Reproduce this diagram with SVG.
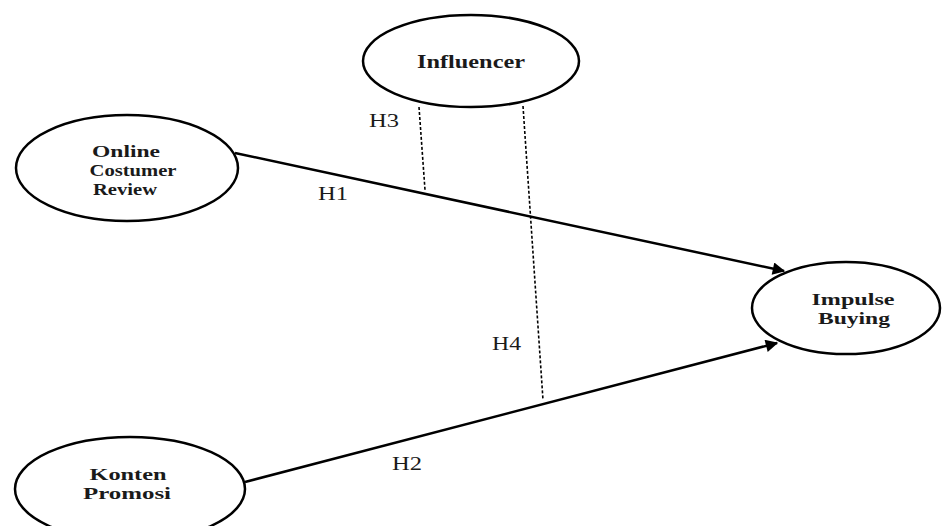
<svg xmlns="http://www.w3.org/2000/svg" width="943" height="526" viewBox="0 0 943 526">
<style>
.node{fill:#fff;stroke:#000;stroke-width:2.5}
.lbl{font-family:"Liberation Serif","Times New Roman",serif;font-weight:bold;font-size:17px;fill:#1a1a1a;text-anchor:middle}
.big{font-size:19px}
.h{font-family:"Liberation Serif","Times New Roman",serif;font-size:18px;fill:#1a1a1a}
.path{stroke:#000;stroke-width:2.5;fill:none}
.dash{stroke:#000;stroke-width:1.6;stroke-dasharray:3,2;fill:none}
</style>
<defs>
<marker id="arr" viewBox="0 0 10 10" refX="9" refY="5" markerWidth="5.5" markerHeight="5" orient="auto" markerUnits="strokeWidth">
<path d="M0,0 L10,5 L0,10 z" fill="#000"/>
</marker>
</defs>
<rect width="943" height="526" fill="#fff"/>
<g id="connectors">
<line class="path" x1="235" y1="153" x2="784" y2="271" marker-end="url(#arr)"/>
<line class="path" x1="245" y1="482" x2="777" y2="343" marker-end="url(#arr)"/>
<line class="dash" x1="419" y1="107" x2="425" y2="190"/>
<line class="dash" x1="523" y1="106" x2="543" y2="400"/>
<text class="h" x="369" y="127" textLength="30" lengthAdjust="spacingAndGlyphs">H3</text>
<text class="h" x="318" y="200" textLength="30" lengthAdjust="spacingAndGlyphs">H1</text>
<text class="h" x="492" y="350" textLength="29" lengthAdjust="spacingAndGlyphs">H4</text>
<text class="h" x="392" y="470" textLength="30" lengthAdjust="spacingAndGlyphs">H2</text>
</g>
<g id="influencer">
<ellipse class="node" cx="471" cy="61" rx="108" ry="46"/>
<text class="lbl big" x="471" y="68" textLength="108" lengthAdjust="spacingAndGlyphs">Influencer</text>
</g>
<g id="ocr">
<ellipse class="node" cx="127" cy="168" rx="111" ry="53"/>
<text class="lbl" x="126" y="157" textLength="68" lengthAdjust="spacingAndGlyphs">Online</text>
<text class="lbl" x="133" y="176" textLength="87" lengthAdjust="spacingAndGlyphs">Costumer</text>
<text class="lbl" x="125" y="195" textLength="64" lengthAdjust="spacingAndGlyphs">Review</text>
</g>
<g id="impulse">
<ellipse class="node" cx="846" cy="308" rx="94" ry="46"/>
<text class="lbl" x="853" y="305" textLength="83" lengthAdjust="spacingAndGlyphs">Impulse</text>
<text class="lbl" x="854" y="324" textLength="72" lengthAdjust="spacingAndGlyphs">Buying</text>
</g>
<g id="konten">
<ellipse class="node" cx="130" cy="489" rx="115" ry="52"/>
<text class="lbl" x="128" y="480" textLength="77" lengthAdjust="spacingAndGlyphs">Konten</text>
<text class="lbl" x="127" y="499" textLength="88" lengthAdjust="spacingAndGlyphs">Promosi</text>
</g>
</svg>
